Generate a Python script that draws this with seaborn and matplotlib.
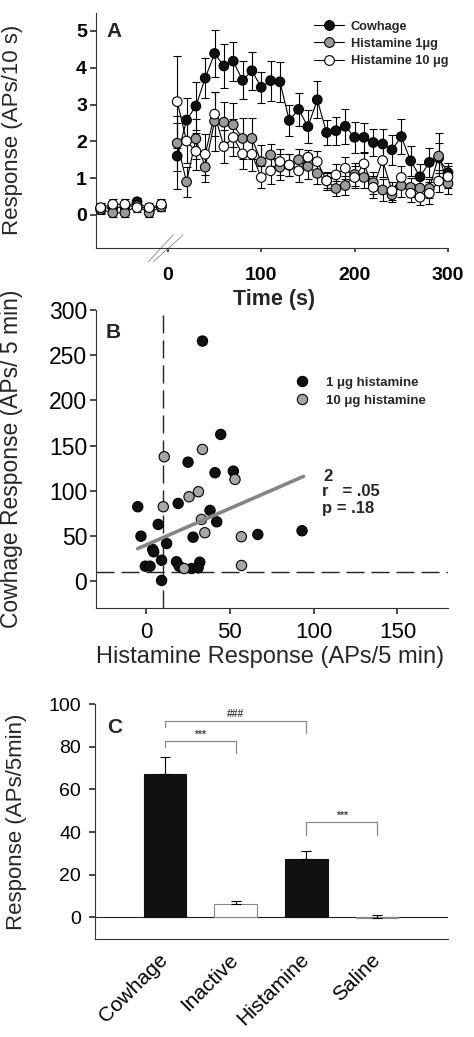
import matplotlib
matplotlib.use("Agg")
import matplotlib.pyplot as plt
from matplotlib.lines import Line2D
import numpy as np
import pandas as pd
import seaborn as sns

# ---- panel A: firing per 10 s bin (baseline bins, then after application)
base_time = [-72, -59, -46, -33, -20, -7]
post_time = list(range(10, 301, 10))

cow_base = [0.18, 0.20, 0.22, 0.36, 0.15, 0.25]
cow_post = [1.60, 2.58, 2.96, 3.72, 4.39, 4.05, 4.18, 3.66, 3.92, 3.47,
            3.65, 3.62, 2.57, 2.87, 2.40, 3.13, 2.24, 2.29, 2.41, 2.11,
            2.11, 1.97, 1.93, 1.77, 2.13, 1.47, 1.04, 1.43, 1.55, 1.15]
cow_base_err = [0.12, 0.12, 0.12, 0.10, 0.12, 0.15]
cow_post_err = [0.90, 0.60, 0.65, 0.55, 0.63, 0.60, 0.53, 0.52, 0.52, 0.42,
                0.54, 0.54, 0.42, 0.45, 0.45, 0.50, 0.35, 0.38, 0.48, 0.43,
                0.40, 0.38, 0.40, 0.40, 0.47, 0.40, 0.35, 0.40, 0.40, 0.25]

h1_base = [0.15, 0.06, 0.06, 0.25, 0.06, 0.22]
h1_post = [1.95, 0.90, 2.07, 1.30, 2.55, 2.52, 2.45, 2.08, 2.08, 1.45,
           1.63, 1.30, 1.35, 1.50, 1.32, 1.13, 0.93, 0.72, 0.80, 1.10,
           1.02, 0.88, 0.68, 0.55, 0.80, 0.75, 0.73, 0.72, 1.60, 0.86]
h1_base_err = [0.12, 0.12, 0.12, 0.12, 0.12, 0.12]
h1_post_err = [0.75, 0.40, 0.55, 0.40, 0.80, 0.55, 0.60, 0.55, 0.55, 0.45,
               0.30, 0.35, 0.30, 0.30, 0.35, 0.30, 0.20, 0.20, 0.25, 0.30,
               0.30, 0.30, 0.30, 0.20, 0.30, 0.25, 0.25, 0.25, 0.62, 0.30]

h10_base = [0.20, 0.29, 0.29, 0.20, 0.20, 0.29]
h10_post = [3.08, 2.01, 1.73, 1.65, 2.74, 1.86, 2.11, 1.66, 1.65, 1.02,
            1.20, 1.45, 1.36, 1.20, 1.57, 1.45, 0.93, 1.09, 1.27, 1.02,
            1.39, 0.75, 1.48, 0.66, 1.02, 0.59, 0.48, 0.59, 0.92, 1.04]
h10_base_err = [0.12, 0.15, 0.15, 0.12, 0.12, 0.15]
h10_post_err = [1.25, 0.60, 0.50, 0.55, 0.60, 0.45, 0.50, 0.40, 0.45, 0.30,
                0.35, 0.35, 0.30, 0.30, 0.20, 0.30, 0.25, 0.30, 0.30, 0.30,
                0.30, 0.30, 0.45, 0.25, 0.30, 0.25, 0.20, 0.30, 0.30, 0.30]

series_names = ["Cowhage", "Histamine 1\u03bcg", "Histamine 10 \u03bcg"]
series_colors = ["#111111", "#9a9a9a", "#ffffff"]

# ---- panel B: cowhage vs histamine response per neuron
h1_hist = [33.7, 44.6, 25.1, 41.2, 52.1, -4.9, 19.2, 38.2, 42.2, 7.3, -3.0,
           28.1, 66.7, 93.1, 12.3, 4.0, 4.6, 9.3, -0.4, 2.4, 18.2, 19.8,
           27.2, 32.1, 31.1, 9.3]
h1_cow = [265.7, 162.4, 131.7, 120.0, 121.8, 82.4, 86.0, 78.3, 65.7, 62.8,
          49.8, 48.7, 51.7, 55.8, 41.7, 35.1, 32.5, 23.2, 16.6, 16.6, 21.5,
          16.6, 14.0, 21.0, 14.8, 0.8]
h10_hist = [33.7, 10.9, 53.1, 25.7, 31.3, 10.3, 33.1, 35.1, 56.9, 22.8, 57.0]
h10_cow = [145.8, 137.7, 112.6, 93.4, 99.0, 82.4, 68.3, 53.6, 49.2, 14.0, 17.4]
fit_x = [-5, 94]
fit_y = [36, 116]
threshold = 10

# ---- panel C: mean response per 5 min
agents = ["Cowhage", "Inactive", "Histamine", "Saline"]
means = [67.2, 6.3, 27.5, -0.3]
sems = [8.1, 1.5, 3.7, 1.2]
bar_colors = ["#111111", "#ffffff", "#111111", "#ffffff"]
bar_edges = ["#111111", "#888888", "#111111", "#888888"]
# (left bar, right bar, top, left leg bottom, right leg bottom, label)
brackets = [(0, 2, 92.2, 89.0, 86.3, "###"),
            (0, 1, 82.7, 80.0, 77.0, "***"),
            (2, 3, 44.5, 38.7, 38.7, "***")]

sns.set_theme(style="ticks")
plt.rcParams["font.family"] = ["Liberation Sans", "DejaVu Sans"]
plt.rcParams["axes.edgecolor"] = "#333333"
plt.rcParams["axes.linewidth"] = 0.8
plt.rcParams["xtick.color"] = "#333333"
plt.rcParams["ytick.color"] = "#333333"
plt.rcParams["xtick.labelcolor"] = "black"
plt.rcParams["ytick.labelcolor"] = "black"

fig = plt.figure(figsize=(4.74, 10.37), dpi=100)

# ================= panel A
axA = fig.add_axes([0.2025, 0.7611, 0.7426, 0.2264])
rows = []
for name, bt, bv, be, pv, pe in [
        (series_names[0], base_time, cow_base, cow_base_err, cow_post, cow_post_err),
        (series_names[1], base_time, h1_base, h1_base_err, h1_post, h1_post_err),
        (series_names[2], base_time, h10_base, h10_base_err, h10_post, h10_post_err)]:
    for t, v, e in zip(bt, bv, be):
        rows.append((name, name + " base", t, v, e))
    for t, v, e in zip(post_time, pv, pe):
        rows.append((name, name + " post", t, v, e))
dfA = pd.DataFrame(rows, columns=["series", "segment", "time", "resp", "err"])

axA.errorbar(dfA["time"], dfA["resp"], yerr=dfA["err"], fmt="none",
             ecolor="black", elinewidth=0.8, capsize=3, capthick=0.8,
             zorder=1, clip_on=False)
sns.lineplot(data=dfA, x="time", y="resp", units="segment", estimator=None,
             color="black", lw=0.8, ax=axA, zorder=2)
sns.scatterplot(data=dfA, x="time", y="resp", hue="series",
                palette=dict(zip(series_names, series_colors)),
                edgecolor="black", linewidth=0.8, s=48, legend=False,
                ax=axA, zorder=3, clip_on=False)
axA.set_xlim(-77, 300)
axA.set_ylim(-0.89, 5.49)
axA.set_xticks([0, 100, 200, 300])
axA.set_yticks([0, 1, 2, 3, 4, 5])
axA.tick_params(axis="x", length=3, pad=11, labelsize=14)
axA.tick_params(axis="y", length=4, pad=2.5, labelsize=14)
for lab in axA.get_xticklabels() + axA.get_yticklabels():
    lab.set_fontweight("bold")
axA.set_xlabel("Time (s)", fontsize=15.5, fontweight="bold")
axA.xaxis.set_label_coords(0.506, -0.175)
axA.set_ylabel("Response (APs/10 s)", fontsize=16)
axA.yaxis.set_label_coords(-0.207, 0.5)
axA.text(0.051, 0.923, "A", transform=axA.transAxes, fontsize=15,
         fontweight="bold", ha="center", va="center")
# axis break marks
for x0, x1 in [(0.1486, 0.2196), (0.1628, 0.2480)]:
    axA.plot([x0, x1], [-0.06, 0.055], transform=axA.transAxes,
             color="#888888", lw=0.6, clip_on=False)
handles = [Line2D([0], [0], color="black", lw=0.8, marker="o", markersize=7,
                  markerfacecolor=c, markeredgecolor="black",
                  markeredgewidth=0.8) for c in series_colors]
axA.legend(handles, series_names, loc="upper left",
           bbox_to_anchor=(0.60, 0.995), frameon=False, borderpad=0,
           handlelength=2.4, handletextpad=0.5, labelspacing=0.42,
           prop={"size": 9.2, "weight": "bold"})
sns.despine(ax=axA)

# ================= panel B
axB = fig.add_axes([0.2019, 0.4134, 0.7426, 0.2876])
axB.patch.set_alpha(0)
dfB = pd.DataFrame({
    "hist": h1_hist + h10_hist,
    "cow": h1_cow + h10_cow,
    "dose": ["1 \u03bcg histamine"] * len(h1_hist)
            + ["10 \u03bcg histamine"] * len(h10_hist),
})
axB.axvline(threshold, color="#222222", lw=1, ls=(0, (13, 5)), zorder=1)
axB.axhline(threshold, color="#222222", lw=1, ls=(0, (13, 5)), zorder=1)
sns.scatterplot(data=dfB, x="hist", y="cow", hue="dose",
                palette=["#111111", "#a6a6a6"], edgecolor="black",
                linewidth=0.8, s=55, ax=axB, zorder=3)
sns.lineplot(x=fit_x, y=fit_y, color="#858585", lw=2.6, ax=axB, zorder=4)
axB.set_xlim(-30, 180)
axB.set_ylim(-30, 300)
axB.set_xticks([0, 50, 100, 150])
axB.set_yticks([0, 50, 100, 150, 200, 250, 300])
axB.tick_params(axis="x", length=4, pad=6, labelsize=16)
axB.tick_params(axis="y", length=4, pad=2, labelsize=16.5)
axB.set_xlabel("Histamine Response (APs/5 min)", fontsize=17)
axB.xaxis.set_label_coords(0.495, -0.128)
axB.set_ylabel("Cowhage Response (APs/ 5 min)", fontsize=16.5)
axB.yaxis.set_label_coords(-0.2065, 0.5)
axB.text(0.05, 0.924, "B", transform=axB.transAxes, fontsize=15,
         fontweight="bold", ha="center", va="center")
axB.legend(loc="upper left", bbox_to_anchor=(0.545, 0.80), frameon=False,
           borderpad=0, handlelength=1.2, handletextpad=1.2,
           labelspacing=0.45, prop={"size": 9.5, "weight": "bold"},
           title=None)
axB.text(0.648, 0.441, "2", transform=axB.transAxes, fontsize=12,
         fontweight="bold", ha="left", va="center")
axB.text(0.643, 0.393, "r   = .05", transform=axB.transAxes, fontsize=12,
         fontweight="bold", ha="left", va="center")
axB.text(0.643, 0.333, "p = .18", transform=axB.transAxes, fontsize=12,
         fontweight="bold", ha="left", va="center")
sns.despine(ax=axB)

# ================= panel C
axC = fig.add_axes([0.2004, 0.0948, 0.744, 0.2263])
sns.barplot(x=agents, y=means, hue=agents, palette=bar_colors, legend=False,
            width=0.6, errorbar=None, ax=axC, zorder=2)
for patch, ec in zip(axC.patches, bar_edges):
    patch.set_edgecolor(ec)
    patch.set_linewidth(0.8)
axC.errorbar(range(len(agents)), means,
             yerr=[np.zeros(len(sems)), sems], fmt="none", ecolor="black",
             elinewidth=0.8, capsize=3.6, capthick=0.8, zorder=3)
axC.axhline(0, color="#222222", lw=0.8, zorder=1)
for xl, xr, top, lb, rb, lab in brackets:
    axC.plot([xl, xl, xr, xr], [lb, top, top, rb], color="#8a8a8a", lw=0.9)
    axC.text((xl + xr) / 2, top + 0.6, lab, ha="center", va="bottom",
             fontsize=7.5, color="#444444", fontweight="bold")
axC.set_xlim(-0.99, 4.0)
axC.set_ylim(-10, 100)
axC.set_yticks([0, 20, 40, 60, 80, 100])
axC.tick_params(axis="y", length=4, pad=6, labelsize=14)
axC.tick_params(axis="x", length=0, pad=13, labelsize=15)
for lab in axC.get_xticklabels():
    lab.set_rotation(45)
    lab.set_ha("right")
    lab.set_va("center")
    lab.set_rotation_mode("anchor")
axC.set_xlabel("")
axC.set_ylabel("Response (APs/5min)", fontsize=16)
axC.yaxis.set_label_coords(-0.193, 0.5)
axC.text(0.057, 0.90, "C", transform=axC.transAxes, fontsize=15,
         fontweight="bold", ha="center", va="center")
sns.despine(ax=axC)

fig.savefig("out.png", dpi=100)
plt.close(fig)
